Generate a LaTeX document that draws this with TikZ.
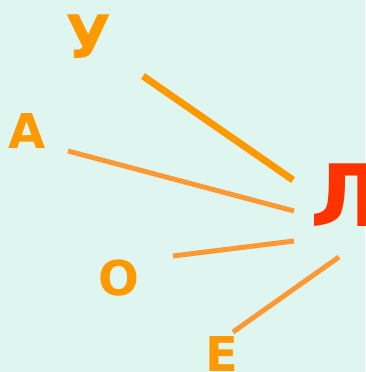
\documentclass[tikz,border=0pt]{standalone}
\usepackage{fontspec}
\newfontfamily\lettfont{DejaVu Sans}
\definecolor{bgc}{HTML}{DFF5F0}
\definecolor{orng}{HTML}{FF9900}
\definecolor{orngl}{HTML}{FF9933}
\definecolor{redo}{HTML}{FF3300}
\tikzset{
  letter/.style={anchor=base, inner sep=0pt, text=orng, font=\lettfont\bfseries\fontsize{48}{48}\selectfont},
  link/.style={draw=orngl, line width=5pt},
  thicklink/.style={draw=orng, line width=7pt}
}
\begin{document}
\begin{tikzpicture}[x=1pt,y=-1pt]
\fill[bgc] (0,0) rectangle (365,372);
\useasboundingbox (0,0) rectangle (365,372);
\node[letter, font=\lettfont\bfseries\fontsize{60}{60}\selectfont] (u) at (89,58) {У};
\node[letter] (a) at (27,148) {А};
\node[letter] (o) at (119,295) {О};
\node[letter] (e) at (222,371) {Е};
\node[letter, text=redo, font=\lettfont\bfseries\fontsize{86}{86}\selectfont] (l) at (346,226) {Л};
\coordinate (u1) at (143,76);
\coordinate (u2) at (293,180);
\coordinate (a1) at (68,151);
\coordinate (a2) at (294,211);
\coordinate (o1) at (173,256);
\coordinate (o2) at (294,241);
\coordinate (e1) at (233,332);
\coordinate (e2) at (339,257);
\draw[thicklink] (u1) -- (u2);
\draw[link] (a1) -- (a2);
\draw[link] (o1) -- (o2);
\draw[link] (e1) -- (e2);
\end{tikzpicture}
\end{document}
